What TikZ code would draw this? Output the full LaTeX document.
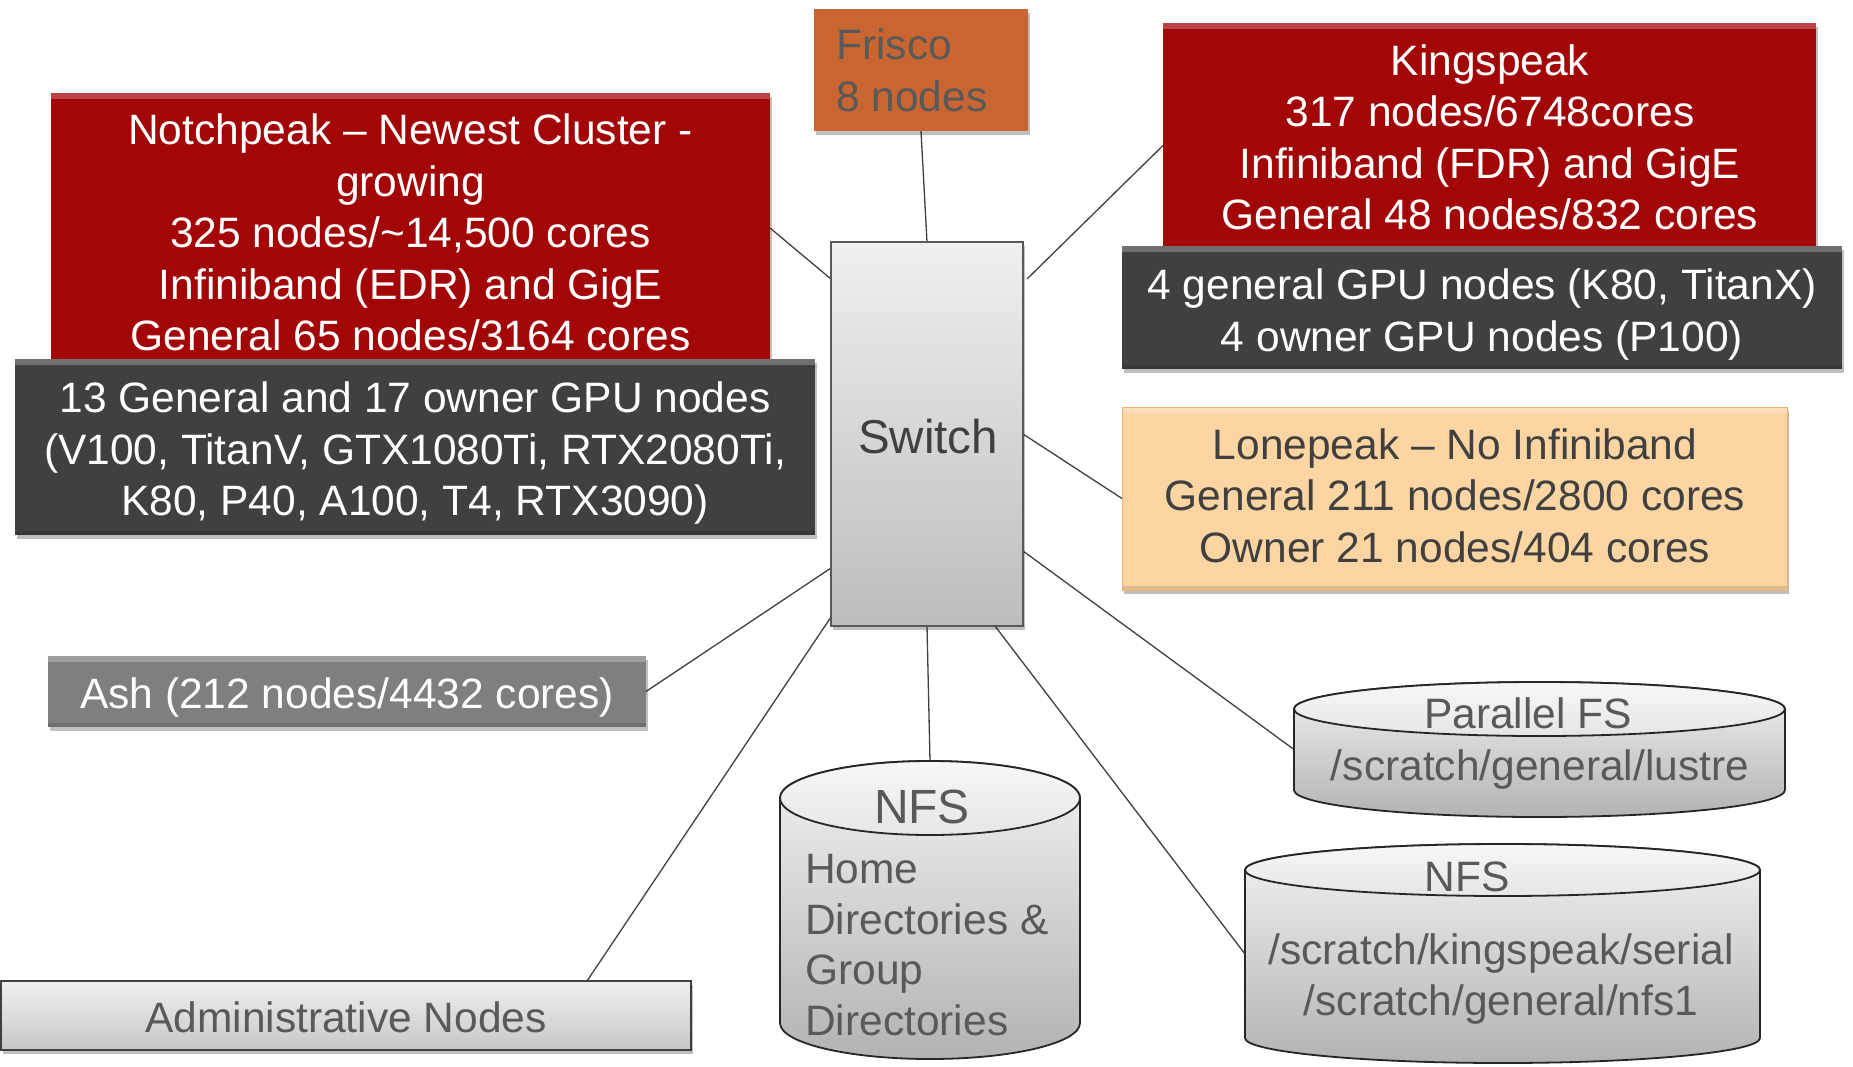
\documentclass[tikz,border=0pt]{standalone}
\usepackage{fontspec}
\setmainfont{Liberation Sans}
\usetikzlibrary{shadows}
\pgfdeclarelayer{background}
\pgfsetlayers{background,main}
\definecolor{npred}{RGB}{162,6,6}
\definecolor{darkbox}{RGB}{64,64,64}
\definecolor{frisco}{RGB}{201,101,48}
\definecolor{txtgray}{RGB}{89,89,89}
\definecolor{peach}{RGB}{252,213,162}
\definecolor{peachedge}{RGB}{236,178,110}
\definecolor{ashgray}{RGB}{127,127,127}
\definecolor{linegray}{RGB}{64,64,64}
\tikzset{
  bigfont/.style={font=\fontsize{42.5}{51.5}\selectfont},
  boxbase/.style={rectangle, anchor=north west, inner sep=0pt, outer sep=0pt,
    drop shadow={shadow xshift=2pt, shadow yshift=-4pt, opacity=0.25, fill=black}},
  bevel/.style={path picture={
    \fill[white, opacity=0.25] (path picture bounding box.north west) rectangle ([yshift=-6pt]path picture bounding box.north east);
    \fill[black, opacity=0.12] (path picture bounding box.south west) rectangle ([yshift=4pt]path picture bounding box.south east);}},
  redbox/.style={boxbase, bevel, fill=npred},
  darkbx/.style={boxbase, bevel, fill=darkbox},
  whitetxt/.style={bigfont, text=white, align=center, inner sep=0pt},
  graytxt/.style={bigfont, text=txtgray, align=center, inner sep=0pt},
  conn/.style={draw=linegray, line width=1.3pt},
  cylbody/.style={draw=black!85, line width=1.8pt, top color=black!5, bottom color=black!30},
  cyltop/.style={draw=black!85, line width=1.8pt, top color=black!3, bottom color=black!10},
  hidden/.style={rectangle, anchor=north west, inner sep=0pt, outer sep=0pt}
}
\begin{document}
\begin{tikzpicture}[x=1pt, y=-1pt]
\useasboundingbox (0,0) rectangle (1853,1066);
\begin{pgfonlayer}{background}
\fill[white] (0,0) rectangle (1853,1066);
\end{pgfonlayer}

% ---- boxes ----
\node[redbox, minimum width=719pt, minimum height=281pt] (np) at (51,93) {};
\node[whitetxt] (npt) at (410.5,232.5) {Notchpeak – Newest Cluster -\\growing\\325 nodes/\textasciitilde14,500 cores\\Infiniband (EDR) and GigE\\General 65 nodes/3164 cores};
\node[darkbx, minimum width=800pt, minimum height=176pt] (npg) at (15,359) {};
\node[whitetxt] (npgt) at (415,453) {13 General and 17 owner GPU nodes\\(V100, TitanV, GTX1080Ti, RTX2080Ti,\\K80, P40, A100, T4, RTX3090)};

\node[boxbase, fill=frisco, minimum width=214pt, minimum height=122pt] (fr) at (814,9) {};
\node[graytxt, align=left, anchor=west] (frt) at (836,70.5) {Frisco\\8 nodes};

\node[redbox, minimum width=653pt, minimum height=237pt] (ks) at (1163,23) {};
\node[whitetxt] (kst) at (1490,137.5) {Kingspeak\\317 nodes/6748cores\\Infiniband (FDR) and GigE\\General 48 nodes/832 cores};
\node[darkbx, minimum width=720pt, minimum height=123pt] (ksg) at (1122,246) {};
\node[whitetxt] (ksgt) at (1482,314.5) {4 general GPU nodes (K80, TitanX)\\4 owner GPU nodes (P100)};

\node[boxbase, draw=black!65, line width=2pt, top color=black!6, bottom color=black!26, minimum width=192pt, minimum height=384pt] (sw) at (831,242) {};
\node[graytxt, text=darkbox, font=\fontsize{47.5}{55}\selectfont] (swt) at (928,437) {Switch};

\node[boxbase, bevel, fill=peach, draw=peachedge, line width=1pt, minimum width=665pt, minimum height=183pt] (lp) at (1122,407) {};
\node[graytxt, text=darkbox] (lpt) at (1455,495.5) {Lonepeak – No Infiniband\\General 211 nodes/2800 cores\\Owner 21 nodes/404 cores};

\node[boxbase, bevel, fill=ashgray, minimum width=598pt, minimum height=71pt] (ash) at (48,656) {};
\node[whitetxt] (asht) at (347,697.5) {Ash (212 nodes/4432 cores)};

\node[boxbase, draw=darkbox, line width=2pt, top color=black!6, bottom color=black!22, minimum width=690pt, minimum height=69pt] (adm) at (1,981) {};
\node[graytxt] (admt) at (346,1017) {Administrative Nodes};

% ---- cylinders (hidden nodes for anchoring) ----
\node[hidden, minimum width=491pt, minimum height=135pt] (pfs) at (1294,682) {};
\node[hidden, minimum width=515pt, minimum height=220pt] (nfs2) at (1245,844) {};
\node[hidden, minimum width=300pt, minimum height=299pt] (nfs1) at (780,761) {};

\path[cylbody] (1294,709) -- (1294,790) arc[start angle=180, end angle=360, x radius=245.5pt, y radius=27pt] -- (1785,709) arc[start angle=0, end angle=180, x radius=245.5pt, y radius=27pt] -- cycle;
\path[cyltop] (1539.5,709) ellipse[x radius=245.5pt, y radius=27pt];
\node[graytxt] (pfst1) at (1528,713) {Parallel FS};
\node[graytxt] (pfst2) at (1540,770) {/scratch/general/lustre};

\path[cylbody] (1245,870) -- (1245,1038) arc[start angle=180, end angle=360, x radius=257.5pt, y radius=25pt] -- (1760,870) arc[start angle=0, end angle=180, x radius=257.5pt, y radius=26pt] -- cycle;
\path[cyltop] (1502.5,870) ellipse[x radius=257.5pt, y radius=26pt];
\node[graytxt] (nfs2t1) at (1467,876.5) {NFS};
\node[graytxt] (nfs2t2) at (1501,979) {/scratch/kingspeak/serial\\/scratch/general/nfs1};

\path[cylbody] (780,798) -- (780,1023) arc[start angle=180, end angle=360, x radius=150pt, y radius=36pt] -- (1080,798) arc[start angle=0, end angle=180, x radius=150pt, y radius=37pt] -- cycle;
\path[cyltop] (930,798) ellipse[x radius=150pt, y radius=37pt];
\node[graytxt, font=\fontsize{48}{55}\selectfont] (nfs1t1) at (922,807) {NFS};
\node[graytxt, align=left, anchor=west, font=\fontsize{42.5}{50.7}\selectfont] (nfs1t2) at (805,945) {Home\\Directories \&\\Group\\Directories};

% ---- connectors ----
\begin{pgfonlayer}{background}
\draw[conn] ([yshift=-135pt]np.north east) -- ([yshift=-37pt]sw.north west);
\draw[conn] (fr.south) -- (sw.north);
\draw[conn] ([yshift=-4pt]ks.west) -- ([yshift=-37pt,xshift=4pt]sw.north east);
\draw[conn] (sw.east) -- (lp.west);
\draw[conn] ([yshift=-117pt]sw.east) -- (pfs.west);
\draw[conn] ([xshift=-28pt]sw.south east) -- (nfs2.west);
\draw[conn] (sw.south) -- (nfs1.north);
\draw[conn] ([yshift=-134pt]sw.west) -- (ash.east);
\draw[conn] ([yshift=-183pt]sw.west) -- ([xshift=-104pt]adm.north east);
\end{pgfonlayer}
\end{tikzpicture}
\end{document}
